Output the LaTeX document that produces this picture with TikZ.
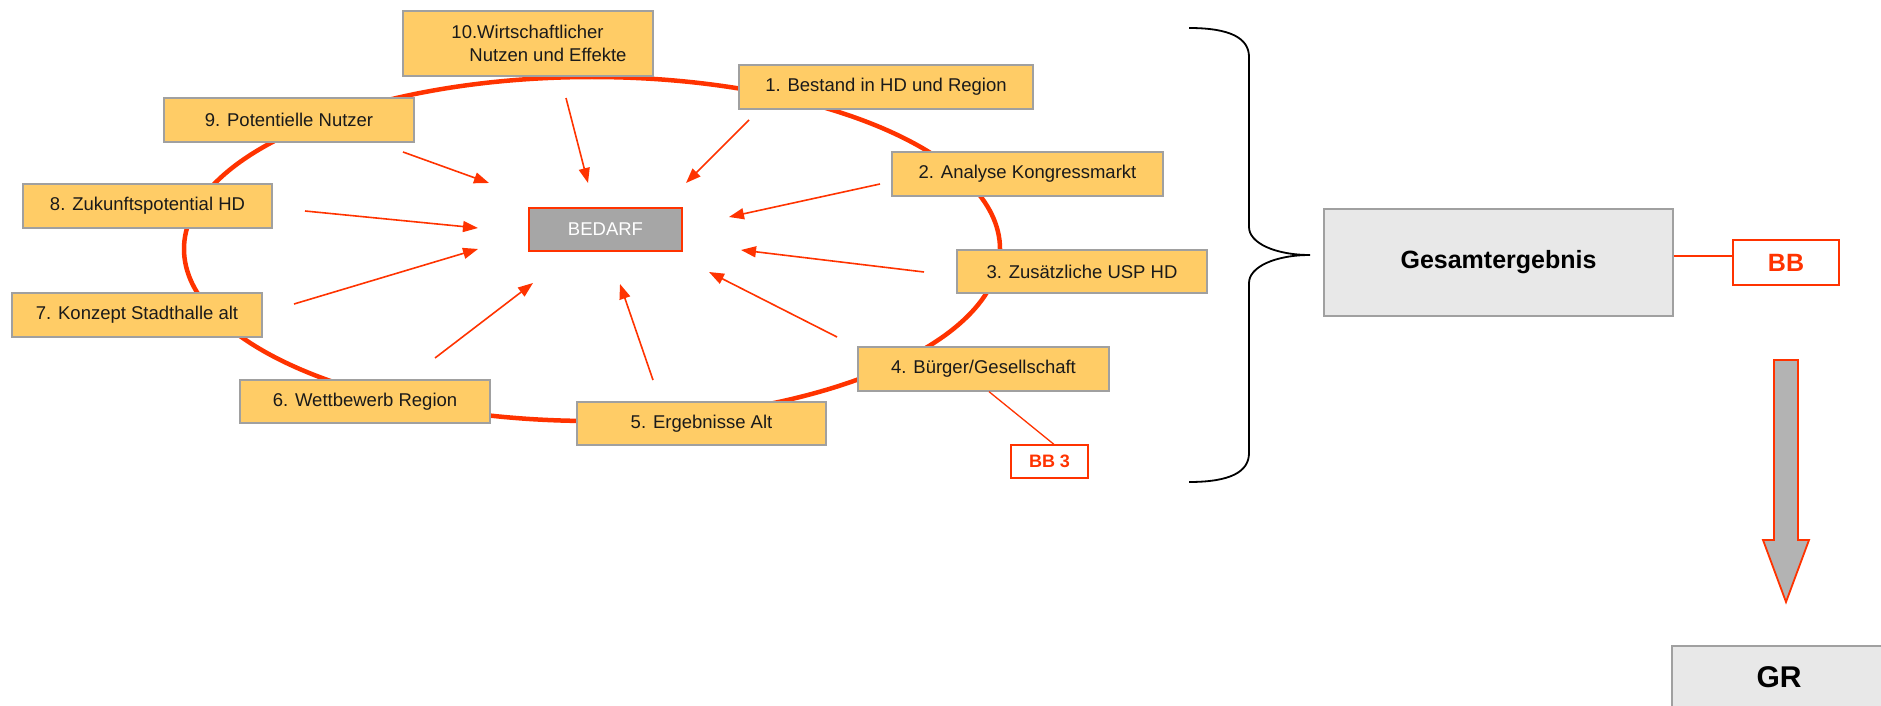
\documentclass[tikz,border=0pt]{standalone}
\usepackage{fontspec}
\setmainfont{Liberation Sans}
\usetikzlibrary{arrows.meta}
\definecolor{boxorange}{RGB}{255,204,102}
\definecolor{boxgray}{RGB}{160,160,160}
\definecolor{redone}{RGB}{255,51,0}
\definecolor{bedgray}{RGB}{166,166,166}
\definecolor{lightgr}{RGB}{232,232,232}
\definecolor{arrgray}{RGB}{179,179,179}
\definecolor{txt}{RGB}{26,26,26}
\begin{document}
\begin{tikzpicture}[x=1pt,y=-1pt,
 topic/.style={draw=boxgray, fill=boxorange, line width=1.3pt, inner sep=0pt, text=txt, font=\fontsize{18.5}{23}\selectfont, minimum height=44pt},
 feed/.style={draw=redone, line width=1.6pt, -{Triangle[length=15pt,width=11pt]}},
 resbox/.style={draw=boxgray, fill=lightgr, line width=1.3pt, inner sep=0pt, text=black},
 tagbox/.style={draw=redone, fill=white, line width=1.2pt, inner sep=0pt, text=redone},
]
\useasboundingbox (0,0) rectangle (1881,706);
\clip (0,0) rectangle (1881,706);
% ring
\draw[redone, line width=4.5pt] (592,249) ellipse [x radius=408pt, y radius=172pt];
% topic boxes
\node[topic, minimum width=250pt, minimum height=65pt, align=left] (t10) at (528,43.5) {\hspace*{22pt}10.Wirtschaftlicher\\\hspace*{40pt}Nutzen und Effekte};
\node[topic, minimum width=294pt] (t1) at (886,87) {1. Bestand in HD und Region};
\node[topic, minimum width=250pt] (t9) at (289,120) {9. Potentielle Nutzer};
\node[topic, minimum width=271pt] (t2) at (1027.5,174) {2. Analyse Kongressmarkt};
\node[topic, minimum width=249pt] (t8) at (147.5,206) {8. Zukunftspotential HD};
\node[draw=redone, fill=bedgray, line width=1.2pt, inner sep=0pt, minimum width=153pt, minimum height=43pt, text=white, font=\fontsize{18.5}{23}\selectfont] (bedarf) at (605.5,229.5) {BEDARF};
\node[topic, minimum width=250pt, minimum height=43pt] (t3) at (1082,271.5) {3. Zusätzliche USP HD};
\node[topic, minimum width=250pt] (t7) at (137,315) {7. Konzept Stadthalle alt};
\node[topic, minimum width=251pt] (t4) at (983.5,369) {4. Bürger/Gesellschaft};
\node[topic, minimum width=250pt, minimum height=43pt] (t6) at (365,401.5) {6. Wettbewerb Region};
\node[topic, minimum width=249pt, minimum height=43pt] (t5) at (701.5,423.5) {5. Ergebnisse Alt};
\node[tagbox, minimum width=77pt, minimum height=33pt, font=\bfseries\fontsize{18}{21}\selectfont] (bb3) at (1049.5,461.5) {BB 3};
\draw[redone, line width=1.3pt] ([xshift=5.5pt]t4.south) -- ([xshift=4.5pt]bb3.north);
% feed arrows
\coordinate (s10) at (566,98);  \coordinate (e10) at (588,183);
\coordinate (s1) at (749,120);  \coordinate (e1) at (686,183);
\coordinate (s9) at (403,152);  \coordinate (e9) at (489,183);
\coordinate (s2) at (880,184);  \coordinate (e2) at (729,217);
\coordinate (s8) at (305,211);  \coordinate (e8) at (478,228);
\coordinate (s3) at (924,272);  \coordinate (e3) at (741,250);
\coordinate (s7) at (294,304);  \coordinate (e7) at (478,249);
\coordinate (s4) at (837,337);  \coordinate (e4) at (709,272);
\coordinate (s6) at (435,358);  \coordinate (e6) at (533,283);
\coordinate (s5) at (653,380);  \coordinate (e5) at (620,284);
\foreach \i in {10,1,9,2,8,3,7,4,6,5} {\draw[feed] (s\i) -- (e\i);}
% brace
\draw[black, line width=1.8pt] (1189,28) .. controls (1230,28) and (1249,38) .. (1249,57) -- (1249,227) .. controls (1249,243) and (1275,255) .. (1310,255) .. controls (1275,255) and (1249,267) .. (1249,283) -- (1249,453) .. controls (1249,472) and (1230,482) .. (1189,482);
% result
\node[resbox, minimum width=349pt, minimum height=107pt, font=\bfseries\fontsize{25}{30}\selectfont] (ges) at (1498.5,262.5) {Gesamtergebnis};
\node[tagbox, minimum width=106pt, minimum height=45pt, font=\bfseries\fontsize{25}{30}\selectfont] (bb) at (1786,262.5) {BB};
\draw[redone, line width=1.5pt] ([yshift=6.5pt]ges.east) -- ([yshift=6.5pt]bb.west);
% block arrow
\draw[redone, fill=arrgray, line width=1.8pt, line join=miter] (1774,360) -- (1798,360) -- (1798,540) -- (1809,540) -- (1786,602) -- (1763,540) -- (1774,540) -- cycle;
\node[resbox, minimum width=214pt, minimum height=62pt, font=\bfseries\fontsize{30}{36}\selectfont] (gr) at (1779,677) {GR};
\end{tikzpicture}
\end{document}
